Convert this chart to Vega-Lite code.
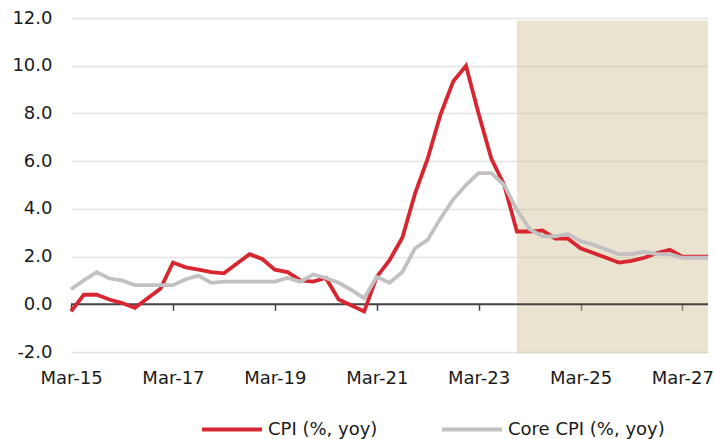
{
  "$schema": "https://vega.github.io/schema/vega-lite/v6.json",
  "width": 637,
  "height": 334,
  "autosize": "none",
  "padding": {"left": 71, "top": 18, "right": 7, "bottom": 87},
  "background": "white",
  "config": {"font": "DejaVu Sans", "view": {"stroke": null}},
  "datasets": {
    "shade": [{"start": "2023-12-01", "end": "2027-09-01"}],
    "zero": [{"start": "2015-03-01", "end": "2027-09-01", "level": 0}],
    "series": [
      {"date": "2015-03-01", "series": "CPI (%, yoy)", "value": -0.3},
      {"date": "2015-06-01", "series": "CPI (%, yoy)", "value": 0.4},
      {"date": "2015-09-01", "series": "CPI (%, yoy)", "value": 0.4},
      {"date": "2015-12-01", "series": "CPI (%, yoy)", "value": 0.2},
      {"date": "2016-03-01", "series": "CPI (%, yoy)", "value": 0.05},
      {"date": "2016-06-01", "series": "CPI (%, yoy)", "value": -0.15},
      {"date": "2016-09-01", "series": "CPI (%, yoy)", "value": 0.25},
      {"date": "2016-12-01", "series": "CPI (%, yoy)", "value": 0.65},
      {"date": "2017-03-01", "series": "CPI (%, yoy)", "value": 1.75},
      {"date": "2017-06-01", "series": "CPI (%, yoy)", "value": 1.55},
      {"date": "2017-09-01", "series": "CPI (%, yoy)", "value": 1.45},
      {"date": "2017-12-01", "series": "CPI (%, yoy)", "value": 1.35},
      {"date": "2018-03-01", "series": "CPI (%, yoy)", "value": 1.3},
      {"date": "2018-06-01", "series": "CPI (%, yoy)", "value": 1.7},
      {"date": "2018-09-01", "series": "CPI (%, yoy)", "value": 2.1},
      {"date": "2018-12-01", "series": "CPI (%, yoy)", "value": 1.9},
      {"date": "2019-03-01", "series": "CPI (%, yoy)", "value": 1.45},
      {"date": "2019-06-01", "series": "CPI (%, yoy)", "value": 1.35},
      {"date": "2019-09-01", "series": "CPI (%, yoy)", "value": 1.0},
      {"date": "2019-12-01", "series": "CPI (%, yoy)", "value": 0.95},
      {"date": "2020-03-01", "series": "CPI (%, yoy)", "value": 1.1},
      {"date": "2020-06-01", "series": "CPI (%, yoy)", "value": 0.2},
      {"date": "2020-09-01", "series": "CPI (%, yoy)", "value": -0.05},
      {"date": "2020-12-01", "series": "CPI (%, yoy)", "value": -0.3},
      {"date": "2021-03-01", "series": "CPI (%, yoy)", "value": 1.15},
      {"date": "2021-06-01", "series": "CPI (%, yoy)", "value": 1.85},
      {"date": "2021-09-01", "series": "CPI (%, yoy)", "value": 2.8},
      {"date": "2021-12-01", "series": "CPI (%, yoy)", "value": 4.65},
      {"date": "2022-03-01", "series": "CPI (%, yoy)", "value": 6.1},
      {"date": "2022-06-01", "series": "CPI (%, yoy)", "value": 7.95},
      {"date": "2022-09-01", "series": "CPI (%, yoy)", "value": 9.35},
      {"date": "2022-12-01", "series": "CPI (%, yoy)", "value": 10.0},
      {"date": "2023-03-01", "series": "CPI (%, yoy)", "value": 8.0},
      {"date": "2023-06-01", "series": "CPI (%, yoy)", "value": 6.1},
      {"date": "2023-09-01", "series": "CPI (%, yoy)", "value": 5.0},
      {"date": "2023-12-01", "series": "CPI (%, yoy)", "value": 3.05},
      {"date": "2024-03-01", "series": "CPI (%, yoy)", "value": 3.05},
      {"date": "2024-06-01", "series": "CPI (%, yoy)", "value": 3.1},
      {"date": "2024-09-01", "series": "CPI (%, yoy)", "value": 2.75},
      {"date": "2024-12-01", "series": "CPI (%, yoy)", "value": 2.75},
      {"date": "2025-03-01", "series": "CPI (%, yoy)", "value": 2.35},
      {"date": "2025-06-01", "series": "CPI (%, yoy)", "value": 2.15},
      {"date": "2025-09-01", "series": "CPI (%, yoy)", "value": 1.95},
      {"date": "2025-12-01", "series": "CPI (%, yoy)", "value": 1.75},
      {"date": "2026-03-01", "series": "CPI (%, yoy)", "value": 1.82},
      {"date": "2026-06-01", "series": "CPI (%, yoy)", "value": 1.95},
      {"date": "2026-09-01", "series": "CPI (%, yoy)", "value": 2.15},
      {"date": "2026-12-01", "series": "CPI (%, yoy)", "value": 2.28},
      {"date": "2027-03-01", "series": "CPI (%, yoy)", "value": 2.0},
      {"date": "2027-06-01", "series": "CPI (%, yoy)", "value": 2.0},
      {"date": "2027-09-01", "series": "CPI (%, yoy)", "value": 2.0},
      {"date": "2015-03-01", "series": "Core CPI (%, yoy)", "value": 0.63},
      {"date": "2015-06-01", "series": "Core CPI (%, yoy)", "value": 1.0},
      {"date": "2015-09-01", "series": "Core CPI (%, yoy)", "value": 1.35},
      {"date": "2015-12-01", "series": "Core CPI (%, yoy)", "value": 1.08},
      {"date": "2016-03-01", "series": "Core CPI (%, yoy)", "value": 1.0},
      {"date": "2016-06-01", "series": "Core CPI (%, yoy)", "value": 0.8},
      {"date": "2016-09-01", "series": "Core CPI (%, yoy)", "value": 0.8},
      {"date": "2016-12-01", "series": "Core CPI (%, yoy)", "value": 0.8},
      {"date": "2017-03-01", "series": "Core CPI (%, yoy)", "value": 0.8},
      {"date": "2017-06-01", "series": "Core CPI (%, yoy)", "value": 1.05},
      {"date": "2017-09-01", "series": "Core CPI (%, yoy)", "value": 1.2},
      {"date": "2017-12-01", "series": "Core CPI (%, yoy)", "value": 0.9},
      {"date": "2018-03-01", "series": "Core CPI (%, yoy)", "value": 0.95},
      {"date": "2018-06-01", "series": "Core CPI (%, yoy)", "value": 0.95},
      {"date": "2018-09-01", "series": "Core CPI (%, yoy)", "value": 0.95},
      {"date": "2018-12-01", "series": "Core CPI (%, yoy)", "value": 0.95},
      {"date": "2019-03-01", "series": "Core CPI (%, yoy)", "value": 0.95},
      {"date": "2019-06-01", "series": "Core CPI (%, yoy)", "value": 1.1},
      {"date": "2019-09-01", "series": "Core CPI (%, yoy)", "value": 0.95},
      {"date": "2019-12-01", "series": "Core CPI (%, yoy)", "value": 1.25},
      {"date": "2020-03-01", "series": "Core CPI (%, yoy)", "value": 1.1},
      {"date": "2020-06-01", "series": "Core CPI (%, yoy)", "value": 0.9},
      {"date": "2020-09-01", "series": "Core CPI (%, yoy)", "value": 0.6},
      {"date": "2020-12-01", "series": "Core CPI (%, yoy)", "value": 0.25},
      {"date": "2021-03-01", "series": "Core CPI (%, yoy)", "value": 1.15},
      {"date": "2021-06-01", "series": "Core CPI (%, yoy)", "value": 0.9},
      {"date": "2021-09-01", "series": "Core CPI (%, yoy)", "value": 1.35},
      {"date": "2021-12-01", "series": "Core CPI (%, yoy)", "value": 2.35},
      {"date": "2022-03-01", "series": "Core CPI (%, yoy)", "value": 2.7},
      {"date": "2022-06-01", "series": "Core CPI (%, yoy)", "value": 3.6},
      {"date": "2022-09-01", "series": "Core CPI (%, yoy)", "value": 4.4},
      {"date": "2022-12-01", "series": "Core CPI (%, yoy)", "value": 5.0},
      {"date": "2023-03-01", "series": "Core CPI (%, yoy)", "value": 5.5},
      {"date": "2023-06-01", "series": "Core CPI (%, yoy)", "value": 5.5},
      {"date": "2023-09-01", "series": "Core CPI (%, yoy)", "value": 5.0},
      {"date": "2023-12-01", "series": "Core CPI (%, yoy)", "value": 3.95},
      {"date": "2024-03-01", "series": "Core CPI (%, yoy)", "value": 3.15},
      {"date": "2024-06-01", "series": "Core CPI (%, yoy)", "value": 2.85},
      {"date": "2024-09-01", "series": "Core CPI (%, yoy)", "value": 2.85},
      {"date": "2024-12-01", "series": "Core CPI (%, yoy)", "value": 2.95},
      {"date": "2025-03-01", "series": "Core CPI (%, yoy)", "value": 2.65},
      {"date": "2025-06-01", "series": "Core CPI (%, yoy)", "value": 2.5},
      {"date": "2025-09-01", "series": "Core CPI (%, yoy)", "value": 2.3},
      {"date": "2025-12-01", "series": "Core CPI (%, yoy)", "value": 2.1},
      {"date": "2026-03-01", "series": "Core CPI (%, yoy)", "value": 2.1},
      {"date": "2026-06-01", "series": "Core CPI (%, yoy)", "value": 2.2},
      {"date": "2026-09-01", "series": "Core CPI (%, yoy)", "value": 2.1},
      {"date": "2026-12-01", "series": "Core CPI (%, yoy)", "value": 2.1},
      {"date": "2027-03-01", "series": "Core CPI (%, yoy)", "value": 1.95},
      {"date": "2027-06-01", "series": "Core CPI (%, yoy)", "value": 1.95},
      {"date": "2027-09-01", "series": "Core CPI (%, yoy)", "value": 1.95}
    ]
  },
  "layer": [
    {
      "data": {"name": "shade"},
      "mark": {"type": "rect", "color": "#cec194", "opacity": 0.45},
      "encoding": {
        "x": {
          "field": "start",
          "type": "temporal",
          "scale": {
            "type": "utc",
            "domain": [
              {"year": 2015, "month": 3, "date": 1, "utc": true},
              {"year": 2027, "month": 9, "date": 1, "utc": true}
            ]
          },
          "axis": {
            "title": null,
            "orient": "bottom",
            "values": [
              {"year": 2015, "month": 3, "date": 1, "utc": true},
              {"year": 2017, "month": 3, "date": 1, "utc": true},
              {"year": 2019, "month": 3, "date": 1, "utc": true},
              {"year": 2021, "month": 3, "date": 1, "utc": true},
              {"year": 2023, "month": 3, "date": 1, "utc": true},
              {"year": 2025, "month": 3, "date": 1, "utc": true},
              {"year": 2027, "month": 3, "date": 1, "utc": true}
            ],
            "labelExpr": "utcFormat(datum.value, '%b-%y')",
            "domain": false,
            "ticks": false,
            "grid": false,
            "labelFont": "DejaVu Sans",
            "labelFontSize": 18,
            "labelColor": "#1a1a1a",
            "labelPadding": 17,
            "labelFlush": false,
            "labelOverlap": false
          }
        },
        "x2": {"field": "end"},
        "y": {
          "datum": 11.9,
          "type": "quantitative",
          "scale": {"domain": [-2, 12], "nice": false, "zero": false},
          "axis": {
            "title": null,
            "values": [-2, 2, 4, 6, 8, 10, 12, 0],
            "labelExpr": "replace(format(datum.value, '.1f'), '\u2212', '-')",
            "domain": false,
            "ticks": false,
            "grid": true,
            "gridColor": "#e3e3e3",
            "gridWidth": 1.5,
            "labelFont": "DejaVu Sans",
            "labelFontSize": 18,
            "labelColor": "#1a1a1a",
            "labelPadding": 19
          }
        },
        "y2": {"datum": -2.05}
      }
    },
    {
      "data": {"name": "zero"},
      "mark": {"type": "rule", "color": "#444444", "strokeWidth": 2},
      "encoding": {
        "x": {"field": "start", "type": "temporal", "axis": null},
        "x2": {"field": "end"},
        "y": {"field": "level", "type": "quantitative"}
      }
    },
    {
      "data": {"name": "series"},
      "mark": {"type": "line", "strokeWidth": 3.8},
      "encoding": {
        "x": {
          "field": "date",
          "type": "temporal",
          "axis": {
            "title": null,
            "orient": "bottom",
            "values": [
              {"year": 2015, "month": 3, "date": 1, "utc": true},
              {"year": 2017, "month": 3, "date": 1, "utc": true},
              {"year": 2019, "month": 3, "date": 1, "utc": true},
              {"year": 2021, "month": 3, "date": 1, "utc": true},
              {"year": 2023, "month": 3, "date": 1, "utc": true},
              {"year": 2025, "month": 3, "date": 1, "utc": true},
              {"year": 2027, "month": 3, "date": 1, "utc": true}
            ],
            "labels": false,
            "grid": false,
            "domain": false,
            "ticks": true,
            "tickColor": "#444444",
            "tickWidth": 1.5,
            "tickSize": 6,
            "offset": -47.7
          }
        },
        "y": {"field": "value", "type": "quantitative"},
        "color": {
          "field": "series",
          "type": "nominal",
          "scale": {
            "domain": ["CPI (%, yoy)", "Core CPI (%, yoy)"],
            "range": ["#d7262f", "#c2c0c0"]
          },
          "legend": {
            "title": null,
            "orient": "none",
            "direction": "horizontal",
            "legendX": 129,
            "legendY": 379.5,
            "symbolType": "stroke",
            "symbolSize": 3600,
            "symbolStrokeWidth": 4,
            "labelFont": "DejaVu Sans",
            "labelFontSize": 18,
            "labelColor": "#1a1a1a",
            "labelOffset": 4,
            "columnPadding": 56
          }
        }
      }
    }
  ],
  "resolve": {"axis": {"x": "independent"}}
}
